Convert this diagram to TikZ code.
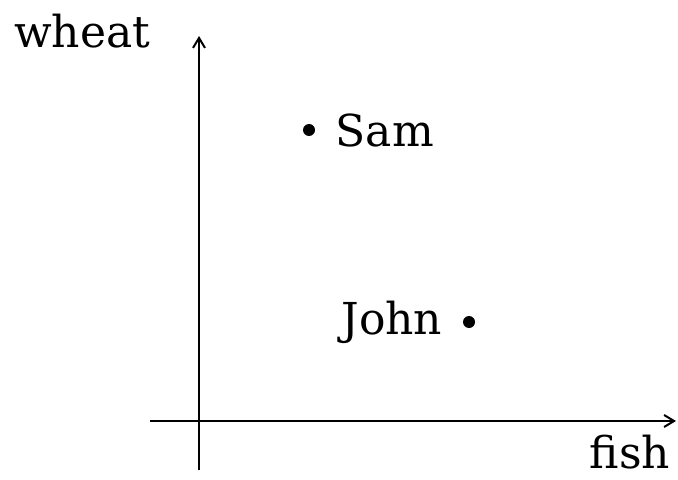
\documentclass[tikz,border=0pt]{standalone}
\usepackage{fontspec}
\setmainfont{DejaVu Serif}
\usetikzlibrary{positioning,arrows.meta}
\tikzset{
    axis/.style={
        -{Straight Barb[length=5pt,width=6pt]},
        line width=1pt
    },
    dot/.style={
        circle,
        fill,
        inner sep=0pt,
        minimum size=6pt
    },
    word/.style={
        font=\fontsize{22}{26}\selectfont,
        inner sep=0pt
    }
}
\begin{document}
\begin{tikzpicture}[x=0.5pt, y=-0.5pt, node distance=10pt]
    \useasboundingbox (0,0) rectangle (678,480);

    \coordinate (ybottom) at (199,470);
    \coordinate (ytop) at (199,36);
    \coordinate (xleft) at (150,421);
    \coordinate (xright) at (676,421);

    \draw[axis] (ybottom) -- (ytop);
    \draw[axis] (xleft) -- (xright);

    \node[word] (wheat) at (82,31) {wheat};
    \node[word] (fish) at (630,452) {fish};

    \node[dot] (samdot) at (309,130) {};
    \node[word, right=of samdot] (sam) {Sam};
    \node[dot] (johndot) at (469,322) {};
    \node[word, left=of johndot] (john) {John};

\end{tikzpicture}
\end{document}
